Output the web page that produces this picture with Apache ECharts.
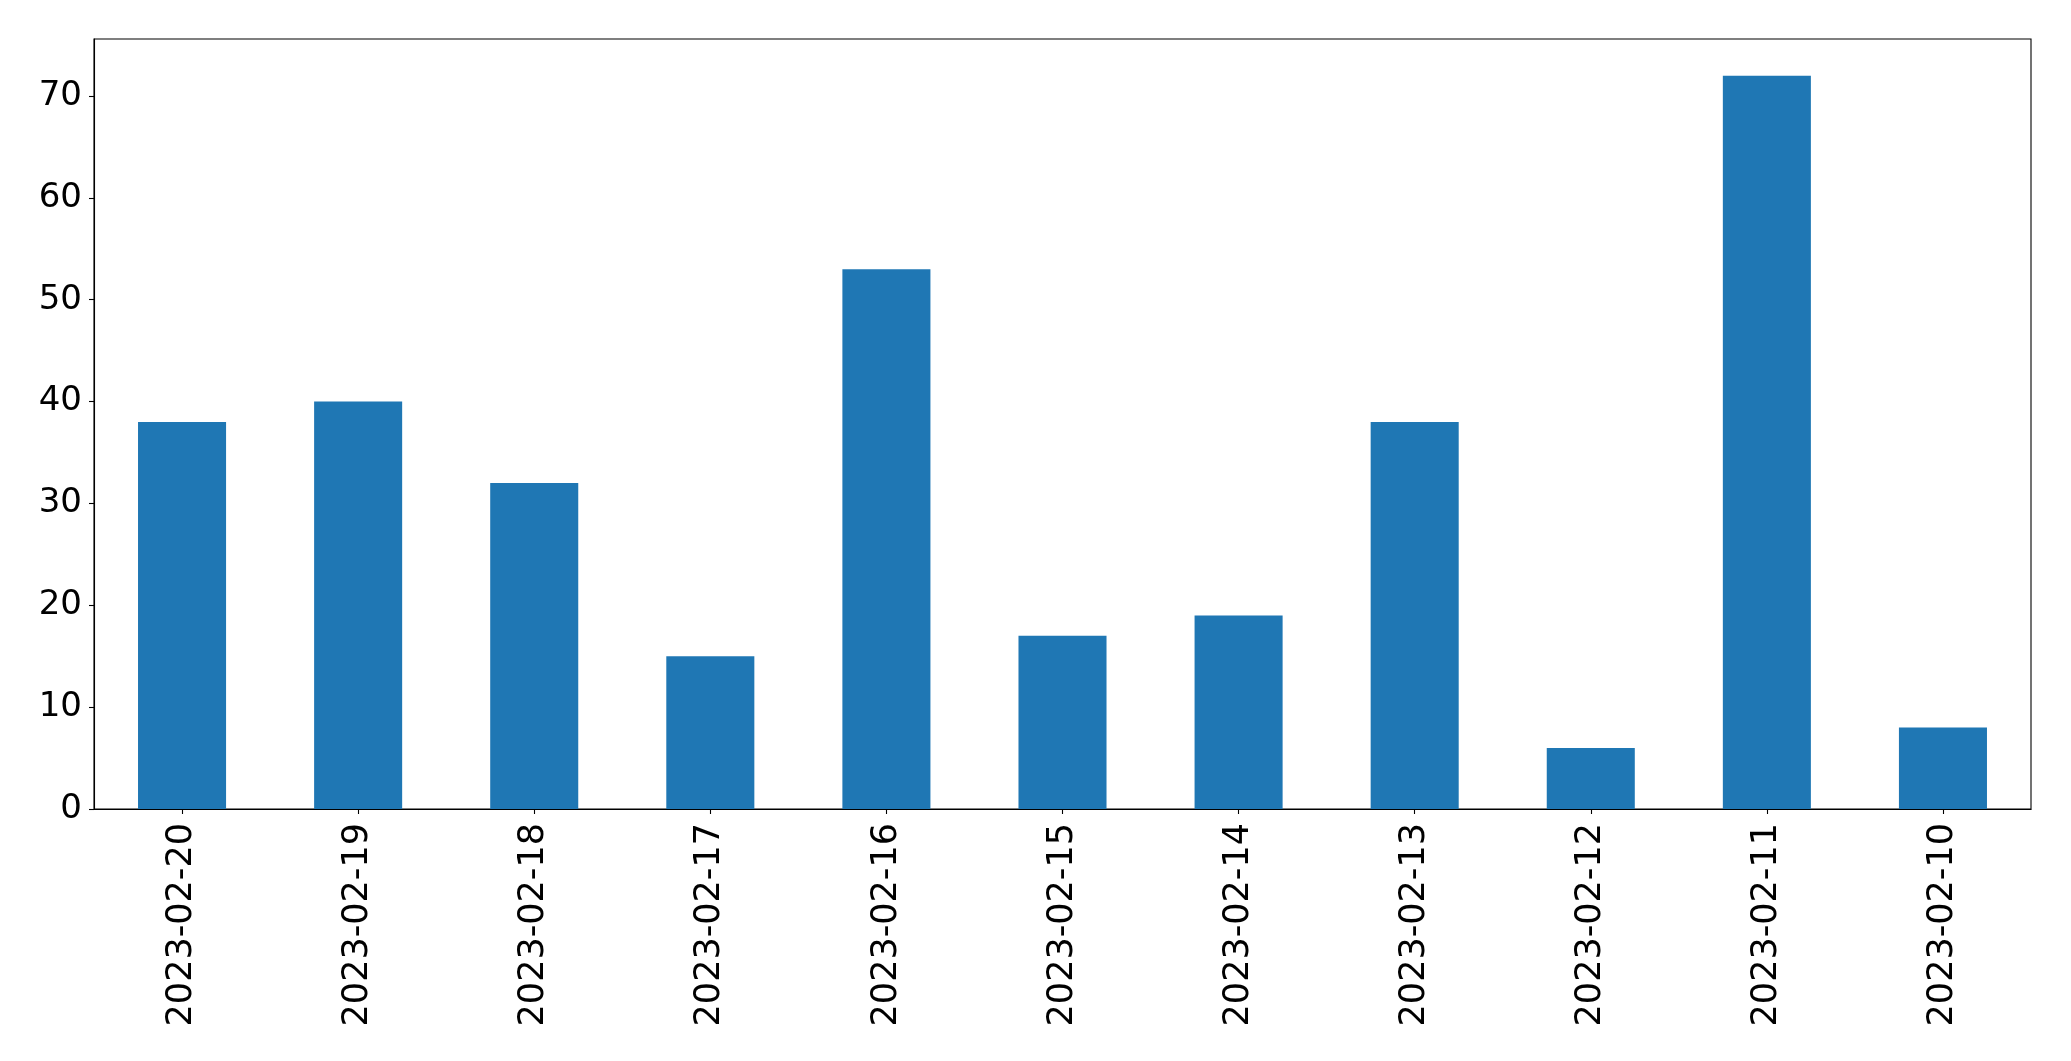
<!DOCTYPE html>
<html>
<head>
<meta charset="utf-8">
<script src="https://cdn.jsdelivr.net/npm/echarts@6/dist/echarts.min.js"></script>
<style>
html,body{margin:0;padding:0;background:#fff;}
#chart{width:2071px;height:1061px;}
</style>
</head>
<body>
<div id="chart"></div>
<script>
const categories = ['2023-02-20','2023-02-19','2023-02-18','2023-02-17','2023-02-16','2023-02-15','2023-02-14','2023-02-13','2023-02-12','2023-02-11','2023-02-10'];
const values = [38, 40, 32, 15, 53, 17, 19, 38, 6, 72, 8];
const yTicks = [0, 10, 20, 30, 40, 50, 60, 70];

const chart = echarts.init(document.getElementById('chart'), null, {renderer: 'canvas'});
const font = 'DejaVu Sans';
chart.setOption({
  animation: false,
  backgroundColor: '#ffffff',
  grid: {
    left: 94, top: 39, right: 40, bottom: 252,
    show: true, borderColor: '#000', borderWidth: 1.1, backgroundColor: 'transparent'
  },
  xAxis: {
    type: 'category',
    data: categories,
    boundaryGap: true,
    axisLine: {show: true, lineStyle: {color: '#000', width: 1.1}},
    axisTick: {show: true, alignWithLabel: true, length: 5, lineStyle: {color: '#000', width: 1.1}},
    axisLabel: {rotate: 90, margin: 14, fontFamily: font, fontSize: 35, color: '#000', interval: 0},
    splitLine: {show: false}
  },
  yAxis: {
    type: 'value',
    min: 0,
    max: 75.6,
    interval: 10,
    axisLine: {show: true, lineStyle: {color: '#000', width: 1.1}},
    axisTick: {show: true, length: 5, lineStyle: {color: '#000', width: 1.1}, customValues: yTicks},
    axisLabel: {margin: 12, fontFamily: font, fontSize: 34, color: '#000', customValues: yTicks, padding: [5, 0, 0, 0]},
    splitLine: {show: false}
  },
  series: [{
    type: 'bar',
    data: values,
    barWidth: '50%',
    itemStyle: {color: '#1f77b4'}
  }]
});
</script>
</body>
</html>
